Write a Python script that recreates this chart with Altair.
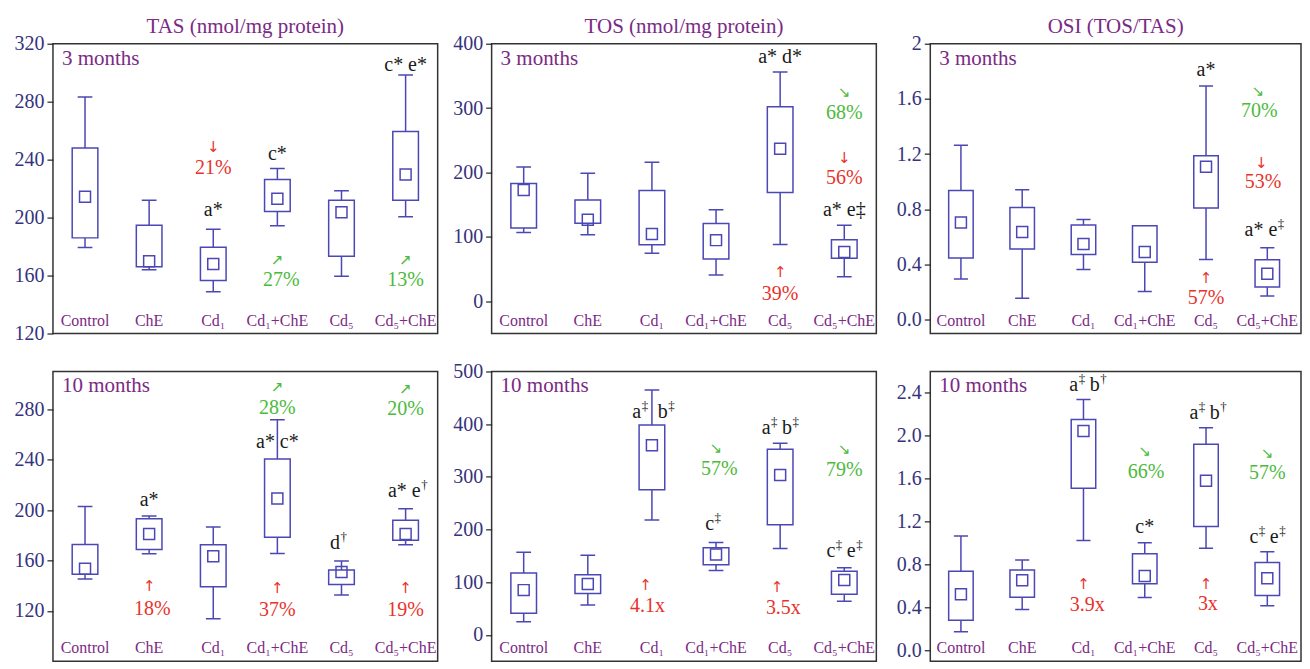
import altair as alt
import pandas as pd

groups = ["Control", "ChE", "Cd\u2081", "Cd\u2081+ChE", "Cd\u2085", "Cd\u2085+ChE"]

# ---- TAS, 3 months ----
tas3_min = [179.4, 164.0, 148.8, 194.3, 159.5, 200.5]
tas3_q1 = [186.0, 166.0, 156.6, 204.2, 173.3, 212.0]
tas3_mean = [214.4, 169.8, 168.0, 213.0, 203.7, 229.7]
tas3_q3 = [248.0, 194.7, 179.6, 226.3, 212.0, 259.4]
tas3_max = [283.2, 212.0, 192.0, 233.8, 218.5, 298.5]

# ---- TAS, 10 months ----
tas10_min = [145.3, 165.3, 113.7, 165.5, 132.6, 172.4]
tas10_q1 = [149.0, 168.7, 139.2, 178.4, 141.0, 176.0]
tas10_mean = [153.4, 181.0, 163.4, 209.2, 150.8, 181.0]
tas10_q3 = [172.6, 193.2, 172.4, 240.5, 152.4, 192.0]
tas10_max = [202.9, 195.3, 186.6, 271.6, 159.5, 201.0]

# ---- TOS, 3 months ----
tos3_min = [107.0, 103.3, 74.5, 41.0, 88.4, 38.0]
tos3_q1 = [114.0, 121.3, 88.0, 65.8, 169.0, 66.8]
tos3_mean = [172.8, 126.5, 104.4, 95.0, 237.0, 76.6]
tos3_q3 = [183.0, 157.3, 172.0, 121.0, 302.0, 95.6]
tos3_max = [208.7, 199.0, 216.0, 142.0, 356.0, 118.0]

# ---- TOS, 10 months ----
tos10_min = [25.2, 56.7, 218.0, 122.3, 164.0, 63.7]
tos10_q1 = [41.0, 78.8, 275.5, 133.0, 209.3, 77.0]
tos10_mean = [85.0, 96.5, 360.0, 152.6, 303.3, 104.0]
tos10_q3 = [117.3, 114.0, 398.5, 165.2, 352.5, 121.0]
tos10_max = [157.0, 151.3, 464.7, 175.3, 363.8, 127.4]

# ---- OSI, 3 months ----
osi3_min = [0.295, 0.156, 0.364, 0.204, 0.436, 0.172]
osi3_q1 = [0.448, 0.513, 0.472, 0.417, 0.810, 0.237]
osi3_mean = [0.704, 0.635, 0.548, 0.491, 1.109, 0.333]
osi3_q3 = [0.937, 0.814, 0.687, 0.680, 1.188, 0.434]
osi3_max = [1.265, 0.941, 0.726, 0.680, 1.693, 0.522]

# ---- OSI, 10 months ----
osi10_min = [0.176, 0.383, 1.025, 0.494, 0.954, 0.417]
osi10_q1 = [0.281, 0.497, 1.513, 0.621, 1.155, 0.513]
osi10_mean = [0.525, 0.655, 2.045, 0.695, 1.581, 0.673]
osi10_q3 = [0.738, 0.750, 2.153, 0.902, 1.921, 0.819]
osi10_max = [1.066, 0.843, 2.338, 1.004, 2.076, 0.920]

# annotations: (group position, value, text, colour key); "^" marks a superscript
tas3_ann = [
    (2, 249, "\u2193", "r"), (2, 234, "21%", "r"), (2, 205, "a*", "k"),
    (3, 244, "c*", "k"), (3, 171, "\u2197", "g"), (3.06, 157, "27%", "g"),
    (5, 305, "c* e*", "k"), (5, 171, "\u2197", "g"), (5, 157, "13%", "g"),
]
tas10_ann = [
    (1, 208, "a*", "k"), (1, 139.7, "\u2191", "r"), (1.05, 121.8, "18%", "r"),
    (3, 298, "\u2197", "g"), (3, 281, "28%", "g"), (3, 254, "a*   c*", "k"),
    (3, 138.4, "\u2191", "r"), (3, 120.5, "37%", "r"),
    (3.95, 174, "d^\u2020", "k"),
    (5, 296, "\u2197", "g"), (5, 280.5, "20%", "g"), (5.03, 215, "a* e^\u2020", "k"),
    (5, 138.4, "\u2191", "r"), (5, 120.5, "19%", "r"),
]
tos3_ann = [
    (4, 379, "a* d*", "k"), (4, 45, "\u2191", "r"), (4, 12, "39%", "r"),
    (5, 325, "\u2198", "g"), (5, 292, "68%", "g"),
    (5, 223, "\u2193", "r"), (5, 192, "56%", "r"), (5, 142, "a* e\u2021", "k"),
]
tos10_ann = [
    (2.02, 424, "a^\u2021  b^\u2021", "k"), (1.9, 94.6, "\u2191", "r"), (1.93, 54, "4.1x", "r"),
    (3, 355, "\u2198", "g"), (3.05, 314, "57%", "g"), (2.95, 210, "c^\u2021", "k"),
    (4, 393, "a^\u2021 b^\u2021", "k"), (3.95, 90, "\u2191", "r"), (4.05, 50.4, "3.5x", "r"),
    (5, 352, "\u2198", "g"), (5, 312.7, "79%", "g"), (5, 159.5, "c^\u2021 e^\u2021", "k"),
]
osi3_ann = [
    (4, 1.81, "a*", "k"), (4, 0.30, "\u2191", "r"), (4, 0.156, "57%", "r"),
    (4.85, 1.66, "\u2198", "g"), (4.87, 1.51, "70%", "g"),
    (4.9, 1.138, "\u2193", "r"), (4.93, 1.0, "53%", "r"), (4.95, 0.647, "a* e^\u2021", "k"),
]
osi10_ann = [
    (2.07, 2.477, "a^\u2021 b^\u2020", "k"), (2, 0.618, "\u2191", "r"), (2.06, 0.423, "3.9x", "r"),
    (3, 1.86, "\u2198", "g"), (3.02, 1.665, "66%", "g"), (3, 1.149, "c*", "k"),
    (4.03, 2.215, "a^\u2021 b^\u2020", "k"), (4, 0.624, "\u2191", "r"), (4.03, 0.429, "3x", "r"),
    (5, 1.838, "\u2198", "g"), (5, 1.65, "57%", "g"), (5, 1.056, "c^\u2021 e^\u2021", "k"),
]

FONT = "Liberation Serif"
BOX = "#4b47b5"
PURPLE = "#7b2a85"
NAVY = "#35337c"
COLORS = {"r": "#e8322b", "g": "#4cba3c", "k": "#1a1a1a"}
ARROWS = {"\u2191", "\u2193", "\u2197", "\u2198"}
H = 290
FS, SFS = 20, 13                      # annotation font size, superscript font size
CHAR_EM = {"a": 0.444, "b": 0.5, "c": 0.444, "d": 0.5, "e": 0.444, "*": 0.5}


def split_ann(ann, ppu):
    """Split annotations into plain rows and (base, superscript) token rows."""
    plain, base, sup = [], [], []
    for i, yv, txt, ck in ann:
        if "^" not in txt:
            plain.append(dict(idx=i, y=yv, text=txt, color=COLORS[ck],
                              arrow=txt in ARROWS))
            continue
        toks = txt.split(" ")
        parts = []
        for t in toks:
            b, s = (t.split("^") + [""])[:2] if t else ("", "")
            wb = sum(CHAR_EM.get(c, 0.5) for c in b) * FS
            ws = len(s) * 0.5 * SFS
            parts.append((b, s, wb, ws))
        gap = 0.25 * FS
        total = sum(p[2] + p[3] for p in parts) + gap * (len(parts) - 1)
        pos = -total / 2
        for b, s, wb, ws in parts:
            if b:
                base.append(dict(idx=i + pos / ppu, y=yv, text=b, color=COLORS[ck]))
            if s:
                sup.append(dict(idx=i + (pos + wb + 0.5) / ppu, y=yv, text=s,
                                color=COLORS[ck]))
            pos += wb + ws + gap
    return pd.DataFrame(plain), pd.DataFrame(base), pd.DataFrame(sup)


def panel(title, period, mins, q1s, means, q3s, maxs, ann, ydom, yvals, label_expr,
          width=385, xdom=(-0.5, 5.5)):
    df = pd.DataFrame({"idx": list(range(6)), "group": groups, "lo": mins,
                       "q1": q1s, "mean": means, "q3": q3s, "hi": maxs})
    xs = alt.Scale(domain=list(xdom), nice=False, zero=False)
    ys = alt.Scale(domain=ydom, nice=False, zero=False)
    x = alt.X("idx:Q", scale=xs, axis=None)
    yaxis = alt.Axis(values=yvals, labelExpr=label_expr, title=None)
    base = alt.Chart(df).transform_calculate(
        bx0="datum.idx - 0.2", bx1="datum.idx + 0.2",
        cx0="datum.idx - 0.115", cx1="datum.idx + 0.115",
    )
    rule_kw = dict(color=BOX, strokeWidth=1.5, clip=True)
    lower = base.mark_rule(**rule_kw).encode(
        x=x, y=alt.Y("lo:Q", scale=ys, axis=yaxis), y2="q1:Q")
    upper = base.mark_rule(**rule_kw).encode(x=x, y=alt.Y("q3:Q", scale=ys), y2="hi:Q")
    cap_lo = base.mark_rule(**rule_kw).encode(
        x=alt.X("cx0:Q", scale=xs, axis=None), x2="cx1:Q", y=alt.Y("lo:Q", scale=ys))
    cap_hi = base.mark_rule(**rule_kw).encode(
        x=alt.X("cx0:Q", scale=xs, axis=None), x2="cx1:Q", y=alt.Y("hi:Q", scale=ys))
    box = base.mark_rect(fill="white", stroke=BOX, strokeWidth=1.5, clip=True).encode(
        x=alt.X("bx0:Q", scale=xs, axis=None), x2="bx1:Q",
        y=alt.Y("q1:Q", scale=ys), y2="q3:Q")
    mean = base.mark_point(shape="square", size=121, filled=False, stroke=BOX,
                           strokeWidth=1.5, opacity=1, clip=True).encode(
        x=x, y=alt.Y("mean:Q", scale=ys))
    labels = base.mark_text(font=FONT, fontSize=16, color=PURPLE, baseline="middle",
                            clip=True).encode(
        x=x, y=alt.value(H - 13), text="group:N")
    per = alt.Chart(pd.DataFrame({"t": [period]})).mark_text(
        font=FONT, fontSize=21, color=PURPLE, align="left", baseline="middle").encode(
        x=alt.value(9), y=alt.value(15), text="t:N")

    ppu = width / (xdom[1] - xdom[0])
    adf, bdf, sdf = split_ann(ann, ppu)
    enc = dict(x=alt.X("idx:Q", scale=xs, axis=None), y=alt.Y("y:Q", scale=ys),
               text="text:N", color=alt.Color("color:N", scale=None))
    ann_txt = alt.Chart(adf).transform_filter("!datum.arrow").mark_text(
        font=FONT, fontSize=FS, baseline="middle", clip=True).encode(**enc)
    ann_arr = alt.Chart(adf).transform_filter("datum.arrow").mark_text(
        font="DejaVu Sans", fontSize=15, baseline="middle", clip=True).encode(**enc)
    layers = [lower, upper, cap_lo, cap_hi, box, mean, labels, per, ann_txt, ann_arr]
    if len(bdf):
        layers.append(alt.Chart(bdf).mark_text(
            font=FONT, fontSize=FS, baseline="middle", align="left", clip=True).encode(**enc))
    if len(sdf):
        layers.append(alt.Chart(sdf).mark_text(
            font=FONT, fontSize=SFS, baseline="middle", align="left", dy=-6,
            clip=True).encode(**enc))
    if title:
        layers.append(alt.Chart(pd.DataFrame({"t": [title]})).mark_text(
            font=FONT, fontSize=21, color=PURPLE, baseline="middle").encode(
            x=alt.value(width / 2), y=alt.value(-17), text="t:N"))
    return alt.layer(*layers).properties(width=width, height=H)


fmt_int = "format(datum.value, 'd')"
fmt_osi3 = "datum.value == 2 ? '2' : format(datum.value, '.1f')"
fmt_1f = "format(datum.value, '.1f')"
RW, RDOM = 371, (-0.5, 5.55)

p1 = panel("TAS (nmol/mg protein)", "3 months", tas3_min, tas3_q1, tas3_mean, tas3_q3, tas3_max,
           tas3_ann, [120, 320], [120, 160, 200, 240, 280, 320], fmt_int)
p2 = panel("TOS (nmol/mg protein)", "3 months", tos3_min, tos3_q1, tos3_mean, tos3_q3, tos3_max,
           tos3_ann, [-50, 400], [0, 100, 200, 300, 400], fmt_int)
p3 = panel("OSI (TOS/TAS)", "3 months", osi3_min, osi3_q1, osi3_mean, osi3_q3, osi3_max,
           osi3_ann, [-0.1, 2.0], [0, 0.4, 0.8, 1.2, 1.6, 2.0], fmt_osi3, RW, RDOM)
p4 = panel(None, "10 months", tas10_min, tas10_q1, tas10_mean, tas10_q3, tas10_max,
           tas10_ann, [80, 310], [120, 160, 200, 240, 280], fmt_int)
p5 = panel(None, "10 months", tos10_min, tos10_q1, tos10_mean, tos10_q3, tos10_max,
           tos10_ann, [-50, 500], [0, 100, 200, 300, 400, 500], fmt_int)
p6 = panel(None, "10 months", osi10_min, osi10_q1, osi10_mean, osi10_q3, osi10_max,
           osi10_ann, [-0.1, 2.6], [0, 0.4, 0.8, 1.2, 1.6, 2.0, 2.4], fmt_1f, RW, RDOM)

chart = alt.concat(p1, p2, p3, p4, p5, p6, columns=3,
                   spacing=alt.RowColnumber(row=38, column=54), bounds="flush").properties(
    padding={"left": 5, "top": 6.5, "right": 0, "bottom": 0}
).configure_view(stroke="#333333", strokeWidth=1.5).configure_axis(
    labelFont=FONT, labelFontSize=20, labelColor=NAVY, tickColor="#222222",
    tickSize=6, tickWidth=1.2, domain=False, grid=False, labelPadding=3)

chart.save("out.html", embed_options={"renderer": "svg", "actions": False})
